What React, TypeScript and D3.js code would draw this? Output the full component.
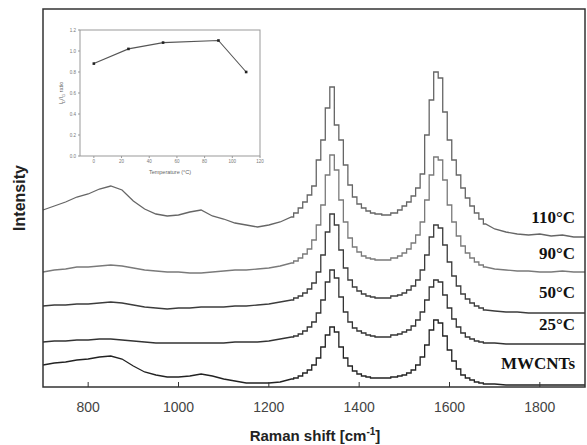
import React from "react";
import * as d3 from "d3";

// Raman shift grid (cm-1), finer around the D and G bands
const shifts = [
  700, 725, 750, 775, 800, 825, 850, 875, 900, 925, 950, 975, 1000, 1025, 1050, 1075, 1100, 1125, 1150, 1175, 1200, 1225, 1250,
  1260, 1270, 1280, 1290, 1300, 1310, 1320, 1330, 1340, 1350, 1360, 1370, 1380, 1390, 1400, 1410, 1420, 1430, 1440,
  1460, 1480,
  1490, 1500, 1510, 1520, 1530, 1540, 1550, 1560, 1570, 1580, 1590, 1600, 1610, 1620, 1630, 1640, 1650, 1660, 1670, 1680,
  1700, 1725, 1750, 1775, 1800, 1825, 1850, 1875, 1900,
];

// intensities (a.u., stacked with offsets as in the figure)
const int110 = [
  190, 194, 198, 203, 206, 211, 214, 210, 199, 191, 186, 184, 185, 188, 190, 184, 181, 177, 175, 173, 175, 178, 183,
  187, 192, 198, 205, 214, 240, 260, 292, 313, 275, 260, 235, 215, 203, 196, 192, 189, 187, 186,
  185, 187,
  190, 194, 198, 204, 212, 226, 265, 300, 328, 322, 288, 260, 240, 225, 212, 202, 194, 187, 181, 176,
  171, 168, 166, 165, 166, 164, 165, 163, 163,
];
const int90 = [
  128, 130, 131, 133, 133, 134, 135, 134, 132, 130, 129, 128, 128, 127, 127, 128, 129, 130, 130, 131, 132, 134, 137,
  139, 142, 146, 151, 160, 175, 195, 225, 245, 230, 200, 178, 162, 153, 148, 144, 142, 141, 140,
  140, 142,
  144, 147, 151, 157, 165, 178, 200, 225, 243, 240, 220, 195, 178, 164, 154, 147, 142, 138, 135, 133,
  131, 130, 129, 129, 128, 128, 129, 128, 128,
];
const int50 = [
  94, 95, 95, 96, 96, 97, 98, 97, 95, 93, 92, 91, 92, 92, 93, 93, 93, 94, 94, 95, 96, 98, 100,
  102, 104, 107, 111, 117, 128, 145, 168, 186, 175, 150, 132, 120, 113, 109, 106, 104, 103, 102,
  102, 104,
  105, 107, 110, 114, 120, 130, 145, 163, 175, 172, 155, 138, 124, 114, 106, 101, 97, 94, 92, 90,
  89, 88, 88, 87, 87, 87, 87, 87, 87,
];
const int25 = [
  58, 59, 59, 60, 60, 61, 61, 60, 59, 58, 57, 57, 57, 57, 57, 57, 57, 58, 58, 58, 59, 61, 63,
  64, 66, 69, 73, 78, 87, 100, 118, 130, 122, 103, 88, 78, 72, 69, 67, 65, 64, 63,
  63, 65,
  66, 68, 70, 74, 80, 88, 100, 113, 120, 118, 105, 92, 81, 73, 67, 63, 61, 59, 58, 57,
  57, 56, 56, 56, 56, 56, 56, 56, 56,
];
const intMWCNT = [
  35, 37, 38, 40, 41, 43, 44, 41, 34, 28, 25, 23, 23, 24, 26, 24, 21, 19, 17, 17, 17, 18, 21,
  22, 24, 27, 30, 35, 42, 53, 65, 73, 68, 53, 42, 34, 29, 26, 24, 23, 22, 22,
  22, 23,
  24, 25, 27, 30, 35, 43, 55, 70, 80, 77, 64, 50, 39, 31, 25, 22, 20, 18, 17, 16,
  16, 15, 15, 15, 15, 15, 15, 15, 15,
];

const sampleLabels = ["110°C", "90°C", "50°C", "25°C", "MWCNTs"];
const sampleColors = ["#666", "#7a7a7a", "#3c3c3c", "#333", "#222"];
const labelLevels = [177, 141, 102, 70, 31];

// inset: ID/IG ratio vs temperature
const insetTemps = [0, 25, 50, 90, 110];
const insetRatio = [0.88, 1.02, 1.08, 1.1, 0.8];

const W = 587;
const H = 445;
const m = { left: 43, right: 585, top: 9, bottom: 387 };
const inset = { left: 80, right: 260, top: 30, bottom: 156 };

// the band region is drawn stepped, the flat background as a plain line
const stepFrom = 22;
const stepTo = 63;

export default function App() {
  const x = d3.scaleLinear().domain([700, 1900]).range([m.left, m.right]);
  const y = d3.scaleLinear().domain([13, 391]).range([m.bottom, m.top]);

  const pts = (s: number[], a: number, b: number) =>
    s.slice(a, b + 1).map((v, i) => [x(shifts[a + i]), y(v)] as [number, number]);

  const flat = d3.line().curve(d3.curveLinear);
  const stepped = d3.line().curve(d3.curveStep);

  const spectrumPath = (s: number[]) =>
    (flat(pts(s, 0, stepFrom)) || "") +
    (stepped(pts(s, stepFrom, stepTo)) || "").replace(/^M/, "L") +
    (flat(pts(s, stepTo, s.length - 1)) || "").replace(/^M/, "L");

  const spectra = [int110, int90, int50, int25, intMWCNT];

  const ix = d3.scaleLinear().domain([-10, 120]).range([inset.left, inset.right]);
  const iy = d3.scaleLinear().domain([0, 1.2]).range([inset.bottom, inset.top]);
  const insetLine = d3
    .line<number>()
    .x((_, i) => ix(insetTemps[i]))
    .y((d) => iy(d));

  return (
    <svg
      width={W}
      height={H}
      style={{ position: "absolute", left: 0, top: 0, background: "#fff" }}
      fontFamily="Arial, 'Liberation Sans', sans-serif"
    >
      <rect x={0} y={0} width={W} height={H} fill="#fff" />

      {spectra.map((s, k) => (
        <path
          key={k}
          d={spectrumPath(s)}
          fill="none"
          stroke={sampleColors[k]}
          strokeWidth={1.3}
        />
      ))}

      {/* main frame */}
      <rect
        x={m.left}
        y={m.top}
        width={m.right - m.left}
        height={m.bottom - m.top}
        fill="none"
        stroke="#333"
        strokeWidth={1.5}
      />

      {x.ticks(6).map((t) => (
        <g key={t}>
          <line x1={x(t)} x2={x(t)} y1={m.bottom} y2={m.bottom - 5} stroke="#333" strokeWidth={1} />
          <text x={x(t)} y={412} textAnchor="middle" fontSize={14} fill="#444">
            {t}
          </text>
        </g>
      ))}

      <text x={315} y={441} textAnchor="middle" fontSize={15} fontWeight="bold" fill="#222">
        Raman shift [cm
        <tspan dy={-6} fontSize={10}>-1</tspan>
        <tspan dy={6}>]</tspan>
      </text>
      <text
        transform="translate(25,198) rotate(-90)"
        textAnchor="middle"
        fontSize={16}
        fontWeight="bold"
        fill="#222"
      >
        Intensity
      </text>

      {sampleLabels.map((l, k) => (
        <text
          key={l}
          x={575}
          y={y(labelLevels[k])}
          textAnchor="end"
          fontSize={17}
          fontWeight="bold"
          fontFamily="'Times New Roman', 'Liberation Serif', serif"
          fill="#111"
        >
          {l}
        </text>
      ))}

      {/* inset */}
      <rect
        x={inset.left}
        y={inset.top}
        width={inset.right - inset.left}
        height={inset.bottom - inset.top}
        fill="#fff"
        stroke="#999"
        strokeWidth={1}
      />
      {iy.ticks(6).map((t) => (
        <g key={"iy" + t}>
          <line x1={inset.left - 2} x2={inset.left} y1={iy(t)} y2={iy(t)} stroke="#999" />
          <text x={inset.left - 4} y={iy(t) + 1.5} textAnchor="end" fontSize={4.5} fill="#777">
            {t.toFixed(1)}
          </text>
        </g>
      ))}
      {ix.ticks(7).filter((t) => t >= 0).map((t) => (
        <g key={"ix" + t}>
          <line x1={ix(t)} x2={ix(t)} y1={inset.bottom} y2={inset.bottom + 2} stroke="#999" />
          <text x={ix(t)} y={inset.bottom + 7} textAnchor="middle" fontSize={4.5} fill="#777">
            {t}
          </text>
        </g>
      ))}
      <text x={170} y={174} textAnchor="middle" fontSize={5.5} fill="#666">
        Temperature (°C)
      </text>
      <text transform="translate(63,93) rotate(-90)" textAnchor="middle" fontSize={5.5} fill="#666">
        I<tspan fontSize={4} dy={1.5}>D</tspan>
        <tspan dy={-1.5}>/I</tspan>
        <tspan fontSize={4} dy={1.5}>G</tspan>
        <tspan dy={-1.5}> ratio</tspan>
      </text>
      <path d={insetLine(insetRatio) || ""} fill="none" stroke="#555" strokeWidth={1.1} />
      {insetRatio.map((r, i) => (
        <rect key={i} x={ix(insetTemps[i]) - 1.3} y={iy(r) - 1.3} width={2.6} height={2.6} fill="#222" />
      ))}
    </svg>
  );
}
